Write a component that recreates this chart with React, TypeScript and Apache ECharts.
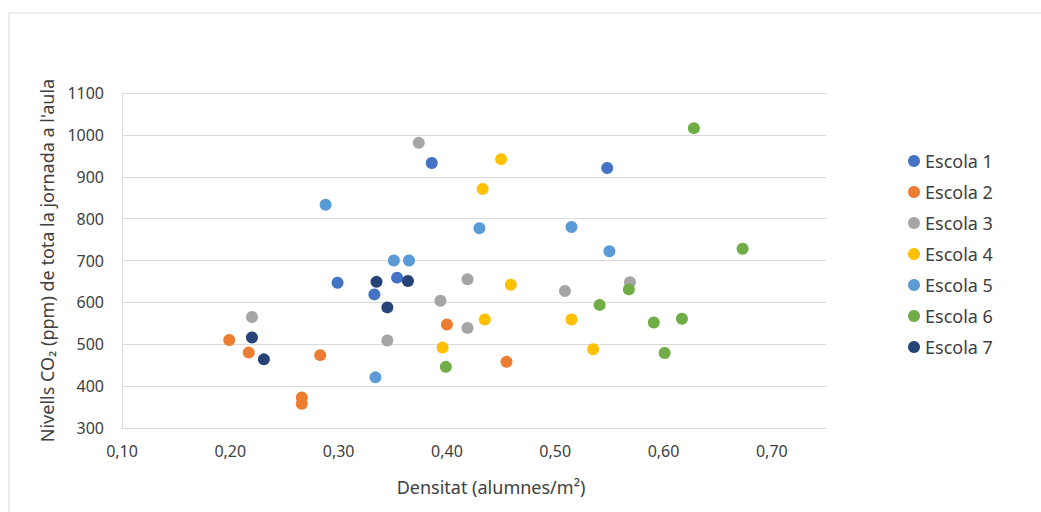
import React, { useEffect, useRef } from "react";
import * as echarts from "echarts";

const seriesNames = ["Escola 1", "Escola 2", "Escola 3", "Escola 4", "Escola 5", "Escola 6", "Escola 7"];
const colors = ["#4472C4", "#ED7D31", "#A5A5A5", "#FFC000", "#5B9BD5", "#70AD47", "#264478"];

const escola1: [number, number][] = [
  [0.386, 933], [0.548, 921], [0.299, 647], [0.333, 619], [0.354, 659],
];
const escola2: [number, number][] = [
  [0.199, 510], [0.217, 480], [0.283, 474], [0.266, 373], [0.266, 358], [0.4, 547], [0.455, 458],
];
const escola3: [number, number][] = [
  [0.374, 981], [0.22, 565], [0.419, 655], [0.394, 604], [0.419, 539], [0.345, 509], [0.509, 627], [0.569, 648],
];
const escola4: [number, number][] = [
  [0.45, 942], [0.433, 871], [0.459, 642], [0.435, 559], [0.396, 492], [0.515, 559], [0.535, 488],
];
const escola5: [number, number][] = [
  [0.288, 833], [0.43, 777], [0.515, 780], [0.55, 722], [0.351, 700], [0.365, 700], [0.334, 421],
];
const escola6: [number, number][] = [
  [0.628, 1016], [0.673, 728], [0.568, 631], [0.541, 594], [0.591, 552], [0.617, 561], [0.601, 479], [0.399, 446],
];
const escola7: [number, number][] = [
  [0.22, 516], [0.231, 464], [0.335, 649], [0.364, 651], [0.345, 588],
];

const allData = [escola1, escola2, escola3, escola4, escola5, escola6, escola7];

const xTitle = "Densitat (alumnes/m²)";
const yTitle = "Nivells CO₂ (ppm) de tota la jornada a l'aula";

const FONT = "'Noto Sans', 'Open Sans', sans-serif";
const TEXT = "#404040";

export default function App() {
  const ref = useRef<HTMLDivElement>(null);
  useEffect(() => {
    if (!ref.current) return;
    const chart = echarts.init(ref.current, undefined, { renderer: "svg" });
    chart.setOption({
      animation: false,
      backgroundColor: "#ffffff",
      textStyle: { fontFamily: FONT },
      graphic: [
        {
          type: "rect",
          shape: { x: 9, y: 13, width: 1100, height: 600 },
          style: { fill: "none", stroke: "#d9d9d9", lineWidth: 1 },
          silent: true,
        },
      ],
      grid: { left: 122, right: 215, top: 93, bottom: 84, containLabel: false },
      legend: {
        orient: "vertical",
        left: 903,
        top: 147,
        itemWidth: 12,
        itemHeight: 12,
        itemGap: 13,
        icon: "circle",
        data: seriesNames,
        textStyle: { fontFamily: FONT, fontSize: 18, color: TEXT, lineHeight: 18 },
      },
      xAxis: {
        type: "value",
        min: 0.1,
        max: 0.75,
        interval: 0.1,
        name: xTitle,
        nameLocation: "middle",
        nameGap: 50,
        nameTextStyle: { fontFamily: FONT, fontSize: 18, color: TEXT, padding: [0, 0, 0, 34] },
        axisLine: { show: true, lineStyle: { color: "#d9d9d9" } },
        axisTick: { show: false },
        splitLine: { show: false },
        axisLabel: {
          fontFamily: FONT,
          fontSize: 16,
          color: TEXT,
          margin: 15,
          formatter: (v: number) => (v > 0.72 ? "" : v.toFixed(2).replace(".", ",")),
        },
      },
      yAxis: {
        type: "value",
        min: 300,
        max: 1100,
        interval: 100,
        name: yTitle,
        nameLocation: "middle",
        nameGap: 61,
        nameTextStyle: { fontFamily: FONT, fontSize: 18, color: TEXT },
        axisLine: { show: true, lineStyle: { color: "#d9d9d9" } },
        axisTick: { show: false },
        splitLine: { show: true, lineStyle: { color: "#d9d9d9", width: 1 } },
        axisLabel: {
          fontFamily: FONT,
          fontSize: 16,
          color: TEXT,
          margin: 18,
          formatter: (v: number) => String(v),
        },
      },
      series: seriesNames.map((name, i) => ({
        name,
        type: "scatter",
        data: allData[i],
        symbol: "circle",
        symbolSize: 12,
        itemStyle: { color: colors[i], opacity: 1 },
      })),
    });
    return () => chart.dispose();
  }, []);
  return (
    <div
      ref={ref}
      style={{ position: "fixed", left: 0, top: 0, width: 1041, height: 512, background: "#fff" }}
    />
  );
}
